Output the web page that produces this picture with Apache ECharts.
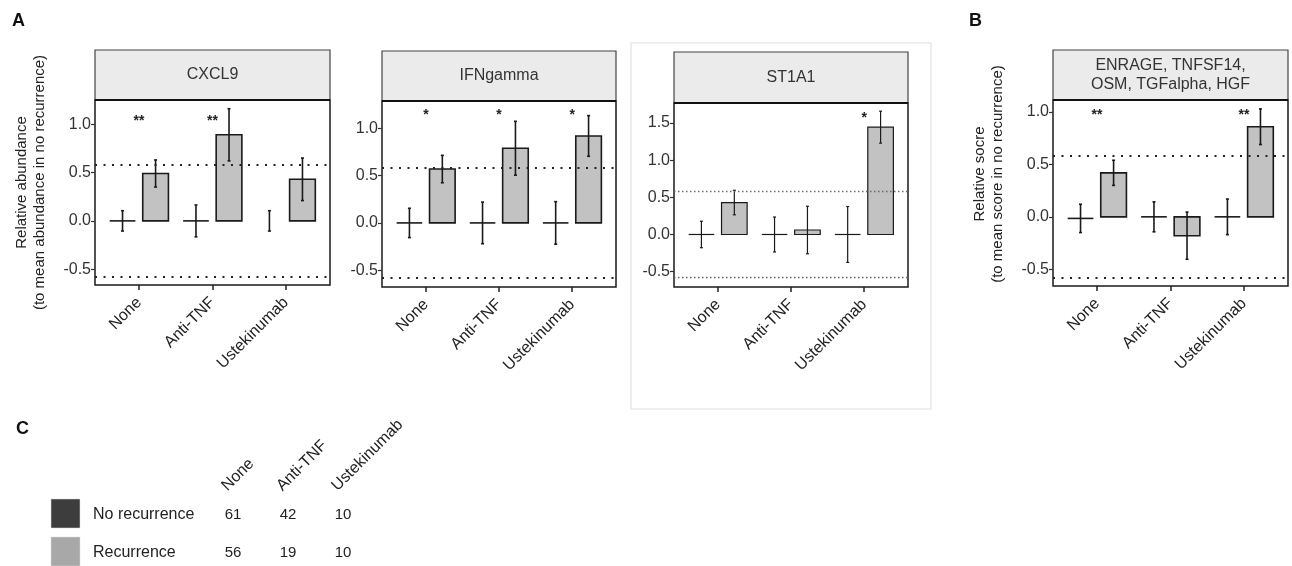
<!DOCTYPE html>
<html><head><meta charset="utf-8">
<script src="https://cdn.jsdelivr.net/npm/echarts@6/dist/echarts.min.js"></script>
<style>html,body{margin:0;padding:0;background:#fff}#c{width:1292px;height:566px}</style>
</head><body><div id="c"></div>
<script>
// ---------- DATA ----------
const categories = ['None', 'Anti-TNF', 'Ustekinumab'];
const yTicks = [-0.5, 0, 0.5, 1.0];
const yTicksST1A1 = [-0.5, 0, 0.5, 1.0, 1.5];
const threshold = 0.585;

const cxcl9NoRecMean = [0, 0, null];
const cxcl9NoRecErr  = [0.105, 0.165, 0.105];
const cxcl9RecMean   = [0.49, 0.89, 0.43];
const cxcl9RecErr    = [0.14, 0.27, 0.22];
const cxcl9Stars     = ['**', '**', ''];
const cxcl9StarY     = [1.06, 1.06, null];

const ifngNoRecMean = [0, 0, 0];
const ifngNoRecErr  = [0.155, 0.22, 0.225];
const ifngRecMean   = [0.57, 0.79, 0.92];
const ifngRecErr    = [0.145, 0.285, 0.215];
const ifngStars     = ['*', '*', '*'];
const ifngStarY     = [1.177, 1.177, 1.177];

const st1a1NoRecMean = [0, 0, 0];
const st1a1NoRecErr  = [0.178, 0.235, 0.376];
const st1a1RecMean   = [0.43, 0.06, 1.445];
const st1a1RecErr    = [0.165, 0.32, 0.215];
const st1a1Stars     = ['', '', '*'];
const st1a1StarY     = [null, null, 1.61];

const scoreNoRecMean = [-0.015, 0, 0];
const scoreNoRecErr  = [0.135, 0.143, 0.17];
const scoreRecMean   = [0.42, -0.18, 0.86];
const scoreRecErr    = [0.12, 0.225, 0.17];
const scoreStars     = ['**', '', '**'];
const scoreStarY     = [0.997, null, 0.997];

const groupLabels = ['No recurrence', 'Recurrence'];
const noRecCounts = [61, 42, 10];
const recCounts   = [56, 19, 10];

// ---------- LAYOUT ----------
const FONT = 'Liberation Sans, Arial, Helvetica, sans-serif';
const panels = [
  {title: 'CXCL9', left: 95, top: 100, width: 235, height: 185, stripTop: 50, min: -0.663, max: 1.25, ticks: yTicks,
   nrM: cxcl9NoRecMean, nrE: cxcl9NoRecErr, rM: cxcl9RecMean, rE: cxcl9RecErr, stars: cxcl9Stars, starY: cxcl9StarY, lw: 1.6,
   dot: {type: [2, 6.5], color: '#222', width: 1.8},
   yName: 'Relative abundance\n(to mean abundance in no recurrence)', namePad: 20},
  {title: 'IFNgamma', left: 382, top: 101, width: 234, height: 186, stripTop: 51, min: -0.678, max: 1.29, ticks: yTicks,
   nrM: ifngNoRecMean, nrE: ifngNoRecErr, rM: ifngRecMean, rE: ifngRecErr, stars: ifngStars, starY: ifngStarY, lw: 1.6,
   dot: {type: [2, 6.5], color: '#222', width: 1.8}},
  {title: 'ST1A1', left: 674, top: 103, width: 234, height: 184, stripTop: 52, min: -0.707, max: 1.77, ticks: yTicksST1A1,
   nrM: st1a1NoRecMean, nrE: st1a1NoRecErr, rM: st1a1RecMean, rE: st1a1RecErr, stars: st1a1Stars, starY: st1a1StarY, lw: 1.2,
   dot: {type: [1.5, 2.5], color: '#666', width: 1.3}},
  {title: 'ENRAGE, TNFSF14,\nOSM, TGFalpha, HGF', left: 1053, top: 100, width: 235, height: 186, stripTop: 50, min: -0.66, max: 1.115, ticks: yTicks,
   nrM: scoreNoRecMean, nrE: scoreNoRecErr, rM: scoreRecMean, rE: scoreRecErr, stars: scoreStars, starY: scoreStarY, lw: 1.6,
   dot: {type: [2, 6.5], color: '#222', width: 1.8},
   yName: 'Relative socre\n(to mean score in no recurrence)', namePad: 38}
];

const grids = [], xAxes = [], yAxes = [], series = [], graphics = [];
const catVals = categories.map((c, i) => i + 1);

panels.forEach((p, gi) => {
  grids.push({left: p.left, top: p.top, width: p.width, height: p.height, show: true,
    borderColor: '#1a1a1a', borderWidth: 1.5, backgroundColor: 'rgba(0,0,0,0)'});
  xAxes.push({type: 'value', gridIndex: gi, min: 0.4, max: 3.6, position: 'bottom',
    axisLine: {show: false, onZero: false}, splitLine: {show: false},
    axisTick: {show: true, customValues: catVals, length: 5, lineStyle: {color: '#222', width: 1.5}},
    axisLabel: {customValues: catVals, formatter: v => categories[Math.round(v) - 1], rotate: 45,
      fontSize: 16, fontFamily: FONT, color: '#222', margin: 15}});
  yAxes.push({type: 'value', gridIndex: gi, min: p.min, max: p.max, position: 'left',
    axisLine: {show: false, onZero: false}, splitLine: {show: false},
    axisTick: {show: true, customValues: p.ticks, length: 4, lineStyle: {color: '#333', width: 1.2}},
    axisLabel: {customValues: p.ticks, formatter: v => v.toFixed(1), fontSize: 16, fontFamily: FONT, color: '#333', margin: 4},
    name: p.yName || '', nameLocation: 'middle', nameGap: 46,
    nameTextStyle: {fontSize: 15, fontFamily: FONT, color: '#222', lineHeight: 18, padding: [0, 0, 0, p.namePad || 0]}});

  const data = categories.map((c, i) => [i + 1, i]);
  series.push({
    type: 'custom', name: p.title, xAxisIndex: gi, yAxisIndex: gi, data: data,
    renderItem: function (params, api) {
      const i = params.dataIndex;
      const x = i + 1;
      const off = 0.225, half = 0.175;
      const ch = [];
      const ls = {stroke: '#1a1a1a', lineWidth: p.lw};
      const errBar = (cx, m, e) => {
        const a = api.coord([cx, m - e]), b = api.coord([cx, m + e]);
        ch.push({type: 'line', shape: {x1: a[0], y1: a[1], x2: b[0], y2: b[1]}, style: ls});
        ch.push({type: 'line', shape: {x1: a[0] - 1.5, y1: a[1], x2: a[0] + 1.5, y2: a[1]}, style: ls});
        ch.push({type: 'line', shape: {x1: b[0] - 1.5, y1: b[1], x2: b[0] + 1.5, y2: b[1]}, style: ls});
      };
      // no recurrence (reference group, zero-height bar)
      const nm = p.nrM[i];
      const nc = x - off;
      if (nm !== null) {
        const l = api.coord([nc - half, nm]), r = api.coord([nc + half, nm]);
        ch.push({type: 'line', shape: {x1: l[0], y1: l[1], x2: r[0], y2: r[1]}, style: ls});
      }
      errBar(nc, nm === null ? 0 : nm, p.nrE[i]);
      // recurrence bar
      const rc = x + off;
      const tl = api.coord([rc - half, p.rM[i]]), br = api.coord([rc + half, 0]);
      ch.push({type: 'rect', shape: {x: tl[0], y: Math.min(tl[1], br[1]), width: br[0] - tl[0], height: Math.abs(br[1] - tl[1])},
        style: {fill: '#c2c2c2', stroke: '#1a1a1a', lineWidth: p.lw}});
      errBar(rc, p.rM[i], p.rE[i]);
      // significance stars
      if (p.stars[i]) {
        const s = api.coord([x, p.starY[i]]);
        ch.push({type: 'text', x: s[0], y: s[1] + 3, style: {text: p.stars[i], align: 'center', verticalAlign: 'middle',
          font: 'bold 14px ' + FONT, fill: '#222'}});
      }
      return {type: 'group', children: ch};
    },
    markLine: {silent: true, symbol: 'none', label: {show: false}, animation: false,
      lineStyle: p.dot, data: [{yAxis: threshold}, {yAxis: -threshold}]},
    z: 3
  });

  // facet strip
  graphics.push({type: 'rect', shape: {x: p.left, y: p.stripTop, width: p.width, height: p.top - p.stripTop},
    style: {fill: '#ebebeb', stroke: '#444', lineWidth: 1.2}, z: 1});
  graphics.push({type: 'line', shape: {x1: p.left, y1: p.top, x2: p.left + p.width, y2: p.top},
    style: {stroke: '#111', lineWidth: 2}, z: 2});
  graphics.push({type: 'text', x: p.left + p.width / 2, y: (p.stripTop + p.top) / 2,
    style: {text: p.title, align: 'center', verticalAlign: 'middle', font: '16px ' + FONT, fill: '#333', lineHeight: 19}, z: 2});
});

// light frame around ST1A1 panel
graphics.push({type: 'rect', shape: {x: 631, y: 43, width: 300, height: 366},
  style: {fill: 'none', stroke: '#e2e2e2', lineWidth: 1.2}, z: 0});

// panel letters
[['A', 12, 12], ['B', 969, 12], ['C', 16, 420]].forEach(([t, x, y]) => {
  graphics.push({type: 'text', x: x, y: y, style: {text: t, font: 'bold 18px ' + FONT, fill: '#111'}});
});

// panel C table
const colX = [233, 288, 343];
const rowY = [515, 553];
const swatch = ['#3d3d3d', '#a8a8a8'];
const rowCounts = [noRecCounts, recCounts];
categories.forEach((c, j) => {
  graphics.push({type: 'text', x: colX[j] - 3, y: 494, rotation: Math.PI / 4,
    style: {text: c, font: '16px ' + FONT, fill: '#222', align: 'left', verticalAlign: 'bottom'}});
});
groupLabels.forEach((g, r) => {
  graphics.push({type: 'rect', shape: {x: 51, y: rowY[r] - 16, width: 29, height: 29}, style: {fill: swatch[r], stroke: '#ddd', lineWidth: 0.5}});
  graphics.push({type: 'text', x: 93, y: rowY[r], style: {text: g, font: '16px ' + FONT, fill: '#222', verticalAlign: 'middle'}});
  rowCounts[r].forEach((v, j) => {
    graphics.push({type: 'text', x: colX[j], y: rowY[r], style: {text: String(v), font: '15px ' + FONT, fill: '#222', align: 'center', verticalAlign: 'middle'}});
  });
});

const chart = echarts.init(document.getElementById('c'), null, {renderer: 'canvas'});
chart.setOption({
  animation: false,
  backgroundColor: '#fff',
  grid: grids, xAxis: xAxes, yAxis: yAxes, series: series, graphic: graphics
});
</script></body></html>
